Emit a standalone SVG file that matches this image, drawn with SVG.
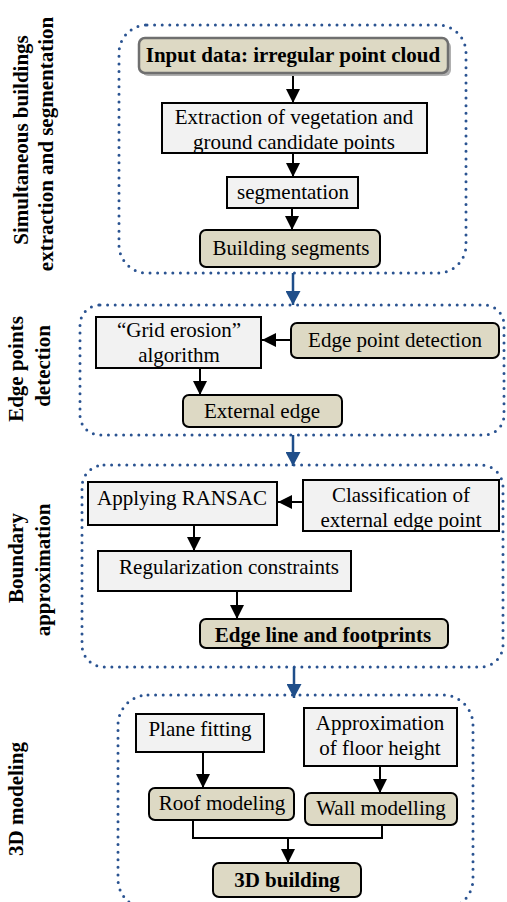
<svg xmlns="http://www.w3.org/2000/svg" width="507" height="902" viewBox="0 0 507 902">
<defs>
<style>
.cont{fill:none;stroke:#2a5391;stroke-width:3;stroke-dasharray:0 7.6;stroke-linecap:round}
.tan{fill:#ddd9c4;stroke:#000;stroke-width:2}
.gray{fill:#f2f2f2;stroke:#000;stroke-width:2}
.t{font-family:'Liberation Serif','Times New Roman',serif;font-size:21px;fill:#000;text-anchor:middle}
.b{font-weight:bold}
.lab{font-family:'Liberation Serif','Times New Roman',serif;font-size:21px;font-weight:bold;fill:#000;text-anchor:middle}
.ln{fill:none;stroke:#000;stroke-width:2}
.bl{fill:none;stroke:#1f4e8a;stroke-width:2.5}
</style>
<marker id="ah" markerUnits="userSpaceOnUse" markerWidth="14" markerHeight="14" refX="14" refY="7" orient="auto" viewBox="0 0 14 14">
<path d="M0,0 L14,7 L0,14 z" fill="#000"/>
</marker>
<marker id="bh" markerUnits="userSpaceOnUse" markerWidth="14" markerHeight="15" refX="14" refY="7.5" orient="auto" viewBox="0 0 14 15">
<path d="M0,0 L14,7.5 L0,15 z" fill="#1f4e8a"/>
</marker>
</defs>
<rect width="507" height="902" fill="#fff"/>

<g id="sections">
<rect class="cont" x="119" y="25" width="347" height="248" rx="28"/>
<rect class="cont" x="80" y="305" width="424" height="130" rx="20"/>
<rect class="cont" x="82" y="465" width="421" height="202" rx="22"/>
<rect class="cont" x="118" y="695" width="355" height="214" rx="30"/>
</g>

<g id="labels">
<text class="lab" transform="translate(28,140) rotate(-90)">Simultaneous buildings</text>
<text class="lab" transform="translate(53,144) rotate(-90)">extraction and segmentation</text>
<text class="lab" transform="translate(23,369) rotate(-90)">Edge points</text>
<text class="lab" transform="translate(50,366) rotate(-90)">detection</text>
<text class="lab" transform="translate(23,558) rotate(-90)">Boundary</text>
<text class="lab" transform="translate(50,570) rotate(-90)">approximation</text>
<text class="lab" transform="translate(23,799) rotate(-90)">3D modeling</text>
</g>

<g id="connectors">
<line class="ln" x1="293" y1="74" x2="293" y2="103" marker-end="url(#ah)"/>
<line class="ln" x1="293" y1="153" x2="293" y2="177" marker-end="url(#ah)"/>
<line class="ln" x1="292" y1="208" x2="292" y2="230" marker-end="url(#ah)"/>
<line class="ln" x1="291" y1="340" x2="262" y2="340" marker-end="url(#ah)"/>
<line class="ln" x1="200" y1="368" x2="200" y2="395" marker-end="url(#ah)"/>
<line class="ln" x1="303" y1="502" x2="278" y2="502" marker-end="url(#ah)"/>
<line class="ln" x1="194" y1="525" x2="194" y2="551" marker-end="url(#ah)"/>
<line class="ln" x1="237" y1="591" x2="237" y2="619" marker-end="url(#ah)"/>
<line class="ln" x1="203" y1="752" x2="203" y2="788" marker-end="url(#ah)"/>
<line class="ln" x1="380" y1="767" x2="380" y2="793" marker-end="url(#ah)"/>
<polyline class="ln" points="193,820 193,838 382,838 382,825"/>
<line class="ln" x1="288" y1="838" x2="288" y2="863" marker-end="url(#ah)"/>
<line class="bl" x1="293" y1="273" x2="293" y2="305" marker-end="url(#bh)"/>
<line class="bl" x1="293" y1="435" x2="293" y2="466" marker-end="url(#bh)"/>
<line class="bl" x1="294" y1="667" x2="294" y2="698" marker-end="url(#bh)"/>
</g>

<g id="input">
<rect x="142" y="41" width="309" height="35" rx="6" fill="#b0b0b0"/>
<rect x="139" y="38" width="309" height="35" rx="6" fill="#ddd9c4" stroke="#6f6f6f" stroke-width="2.5"/>
<text class="t b" x="293" y="62">Input data: irregular point cloud</text>
</g>
<g id="extraction">
<rect class="gray" x="162" y="103" width="265" height="50"/>
<text class="t" x="294" y="124">Extraction of vegetation and</text>
<text class="t" x="294" y="149">ground candidate points</text>
</g>
<g id="segmentation">
<rect class="gray" x="227" y="177" width="131" height="31"/>
<text class="t" x="293" y="199">segmentation</text>
</g>
<g id="building-segments">
<rect class="tan" x="200" y="230" width="180" height="37" rx="6"/>
<text class="t" x="291" y="255">Building segments</text>
</g>

<g id="grid-erosion">
<rect class="gray" x="96" y="317" width="165" height="51"/>
<text class="t" x="179" y="337">“Grid erosion”</text>
<text class="t" x="179" y="362">algorithm</text>
</g>
<g id="edge-point-detection">
<rect class="tan" x="291" y="323" width="208" height="35" rx="6"/>
<text class="t" x="395" y="347">Edge point detection</text>
</g>
<g id="external-edge">
<rect class="tan" x="183" y="395" width="159" height="32" rx="6"/>
<text class="t" x="262" y="418">External edge</text>
</g>

<g id="ransac">
<rect class="gray" x="88" y="482" width="189" height="43"/>
<text class="t" x="182" y="505">Applying RANSAC</text>
</g>
<g id="classification">
<rect class="gray" x="303" y="480" width="196" height="51"/>
<text class="t" x="401" y="502">Classification of</text>
<text class="t" x="401" y="527">external edge point</text>
</g>
<g id="regularization">
<rect class="gray" x="98" y="551" width="253" height="40"/>
<text class="t" x="229" y="574">Regularization constraints</text>
</g>
<g id="edge-line">
<rect class="tan" x="200" y="619" width="248" height="29" rx="6"/>
<text class="t b" x="323" y="642">Edge line and footprints</text>
</g>

<g id="plane-fitting">
<rect class="gray" x="136" y="714" width="128" height="38"/>
<text class="t" x="200" y="736">Plane fitting</text>
</g>
<g id="floor-height">
<rect class="gray" x="304" y="708" width="153" height="58"/>
<text class="t" x="380" y="730">Approximation</text>
<text class="t" x="380" y="755">of floor height</text>
</g>
<g id="roof-modeling">
<rect class="tan" x="149" y="788" width="145" height="32" rx="6"/>
<text class="t" x="222" y="810">Roof modeling</text>
</g>
<g id="wall-modelling">
<rect class="tan" x="305" y="793" width="152" height="32" rx="6"/>
<text class="t" x="381" y="815">Wall modelling</text>
</g>
<g id="building-3d">
<rect class="tan" x="213" y="863" width="148" height="34" rx="6"/>
<text class="t b" x="287" y="887">3D building</text>
</g>
</svg>
